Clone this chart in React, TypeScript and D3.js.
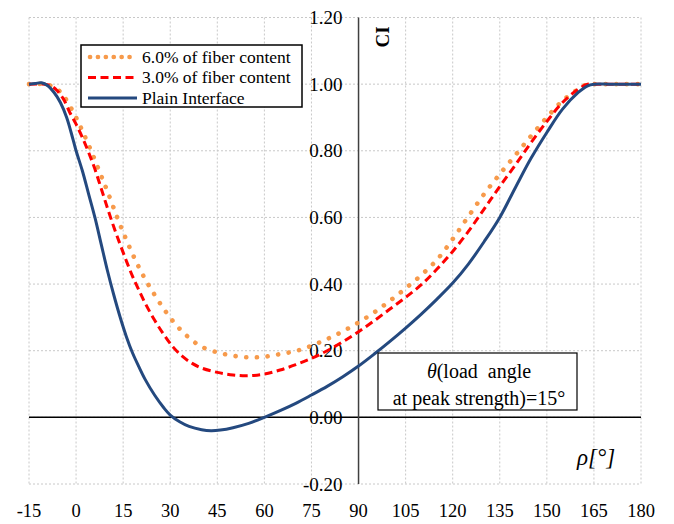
import React from "react";
import * as d3 from "d3";

const W = 674;
const H = 524;

const xTicks = [-15, 0, 15, 30, 45, 60, 75, 90, 105, 120, 135, 150, 165, 180];
const yTicks = [-0.2, 0, 0.2, 0.4, 0.6, 0.8, 1.0, 1.2];

const plainX = [-15, -13, -11, -9, -7, -5, -3, -1, 0, 2, 4, 6, 8, 10, 12, 14, 16, 18, 20, 22, 25, 28, 30, 33, 36, 40, 43, 46, 50, 55, 60, 65, 70, 75, 80, 85, 90, 95, 100, 105, 110, 115, 120, 125, 130, 135, 140, 145, 150, 155, 160, 163, 165, 170, 175, 180];
const plainY = [1.0, 1.002, 1.004, 0.995, 0.975, 0.945, 0.9, 0.835, 0.8, 0.74, 0.67, 0.6, 0.52, 0.44, 0.368, 0.302, 0.243, 0.193, 0.152, 0.114, 0.067, 0.028, 0.007, -0.013, -0.027, -0.037, -0.04, -0.038, -0.031, -0.018, 0.0, 0.02, 0.042, 0.067, 0.093, 0.122, 0.154, 0.19, 0.228, 0.268, 0.31, 0.355, 0.403, 0.46, 0.527, 0.6, 0.69, 0.778, 0.855, 0.925, 0.975, 0.995, 1.0, 1.0, 1.0, 1.0];

const fiber3X = [-15, -10, -8, -6, -4, -2, 0, 2, 4, 6, 8, 10, 12, 14, 16, 18, 20, 22, 25, 28, 31, 34, 37, 40, 45, 50, 55, 60, 65, 70, 75, 80, 85, 90, 95, 100, 105, 110, 115, 120, 125, 130, 135, 140, 145, 150, 155, 160, 163, 165, 170, 175, 180];
const fiber3Y = [1.0, 1.0, 0.995, 0.98, 0.955, 0.915, 0.88, 0.84, 0.795, 0.745, 0.687, 0.628, 0.572, 0.52, 0.47, 0.423, 0.382, 0.343, 0.292, 0.248, 0.21, 0.182, 0.162, 0.148, 0.135, 0.127, 0.125, 0.13, 0.142, 0.158, 0.177, 0.2, 0.227, 0.257, 0.29, 0.325, 0.36, 0.398, 0.445, 0.498, 0.558, 0.625, 0.693, 0.758, 0.825, 0.888, 0.945, 0.985, 1.0, 1.0, 1.0, 1.0, 1.0];

const fiber6X = [-15, -10, -8, -6, -4, -2, 0, 2, 5, 8, 10, 13, 16, 19, 22, 25, 28, 31, 34, 37, 40, 45, 50, 55, 60, 65, 70, 75, 80, 85, 90, 95, 100, 105, 110, 115, 120, 125, 130, 135, 140, 145, 150, 155, 160, 163, 165, 170, 175, 180];
const fiber6Y = [1.0, 1.0, 0.995, 0.985, 0.965, 0.935, 0.9, 0.86, 0.795, 0.725, 0.678, 0.603, 0.533, 0.47, 0.415, 0.368, 0.325, 0.287, 0.256, 0.231, 0.212, 0.195, 0.185, 0.18, 0.182, 0.19, 0.199, 0.215, 0.235, 0.258, 0.285, 0.315, 0.35, 0.387, 0.427, 0.473, 0.535, 0.603, 0.67, 0.73, 0.787, 0.845, 0.9, 0.95, 0.985, 1.0, 1.0, 1.0, 1.0, 1.0];

const legendLabels = ["6.0% of fiber content", "3.0% of fiber content", "Plain Interface"];

const x = d3.scaleLinear().domain([-15, 180]).range([29, 641]);
const y = d3.scaleLinear().domain([-0.2, 1.2]).range([484, 17.5]);

const line = d3
  .line<[number, number]>()
  .x((d) => x(d[0]))
  .y((d) => y(d[1]))
  .curve(d3.curveCatmullRom.alpha(0.5));

const zip = (a: number[], b: number[]) => a.map((v, i) => [v, b[i]] as [number, number]);

const styles = [
  { stroke: "#F79A4B", width: 4.6, dash: "0.1 10.6", cap: "round" as const },
  { stroke: "#FF0000", width: 3, dash: "8 4.5", cap: "butt" as const },
  { stroke: "#24497F", width: 3, dash: undefined, cap: "butt" as const },
];

const series = [zip(fiber6X, fiber6Y), zip(fiber3X, fiber3Y), zip(plainX, plainY)];

const tx = { fontFamily: "Liberation Serif" };

export default function App() {
  return (
    <svg width={W} height={H} style={{ position: "absolute", left: 0, top: 0, background: "#fff" }}>
      <rect x={0} y={0} width={W} height={H} fill="#fff" />
      {xTicks.map((t) => (
        <line key={"gx" + t} x1={x(t)} x2={x(t)} y1={y(1.2)} y2={y(-0.2)} stroke="#C8C8C8" strokeWidth={1} strokeDasharray="2 2" />
      ))}
      {yTicks.map((t) => (
        <line key={"gy" + t} x1={x(-15)} x2={x(180)} y1={y(t)} y2={y(t)} stroke="#C8C8C8" strokeWidth={1} strokeDasharray="2 2" />
      ))}
      <line x1={x(-15)} x2={x(180)} y1={y(0)} y2={y(0)} stroke="#000" strokeWidth={1.5} />
      <line x1={x(90)} x2={x(90)} y1={y(1.2)} y2={y(-0.2)} stroke="#404040" strokeWidth={1.5} />
      {yTicks.map((t) => (
        <text key={"yl" + t} style={tx} x={x(90) - 16} y={y(t)} dy="0.35em" textAnchor="end" fontSize={19} fill="#000">
          {t.toFixed(2)}
        </text>
      ))}
      {xTicks.map((t) => (
        <text key={"xl" + t} style={tx} x={x(t)} y={517} textAnchor="middle" fontSize={18.5} fill="#000">
          {t}
        </text>
      ))}
      {series.map((s, i) => (
        <path
          key={"s" + i}
          d={line(s) || ""}
          fill="none"
          stroke={styles[i].stroke}
          strokeWidth={styles[i].width}
          strokeDasharray={styles[i].dash}
          strokeLinecap={styles[i].cap}
          strokeLinejoin="round"
        />
      ))}
      <text style={tx} transform={`translate(389,37) rotate(-90)`} textAnchor="middle" fontSize={19} fontWeight="bold" fill="#000">
        CI
      </text>
      <text style={tx} x={577} y={465} fontSize={23} fontStyle="italic" fill="#000">
        ρ[°]
      </text>
      <rect x={81} y={45} width={221} height={62} fill="#fff" stroke="#000" strokeWidth={1.5} />
      {legendLabels.map((lab, i) => (
        <g key={"lg" + i}>
          <line
            x1={i === 0 ? 90 : 88}
            x2={137}
            y1={57 + i * 20.5}
            y2={57 + i * 20.5}
            stroke={styles[i].stroke}
            strokeWidth={styles[i].width}
            strokeDasharray={i === 0 ? "0.1 7.8" : styles[i].dash}
            strokeLinecap={styles[i].cap}
          />
          <text style={tx} x={142} y={57 + i * 20.5} dy="0.33em" fontSize={17.5} fill="#000">
            {lab}
          </text>
        </g>
      ))}
      <rect x={378} y={353} width={199} height={57} fill="#fff" stroke="#000" strokeWidth={1.2} />
      <text style={tx} x={479} y={378} textAnchor="middle" fontSize={20} fill="#000">
        <tspan fontStyle="italic">θ</tspan>
        <tspan>{"(load\u00A0 angle"}</tspan>
      </text>
      <text style={tx} x={479} y={405} textAnchor="middle" fontSize={20} fill="#000">
        at peak strength)=15°
      </text>
    </svg>
  );
}
